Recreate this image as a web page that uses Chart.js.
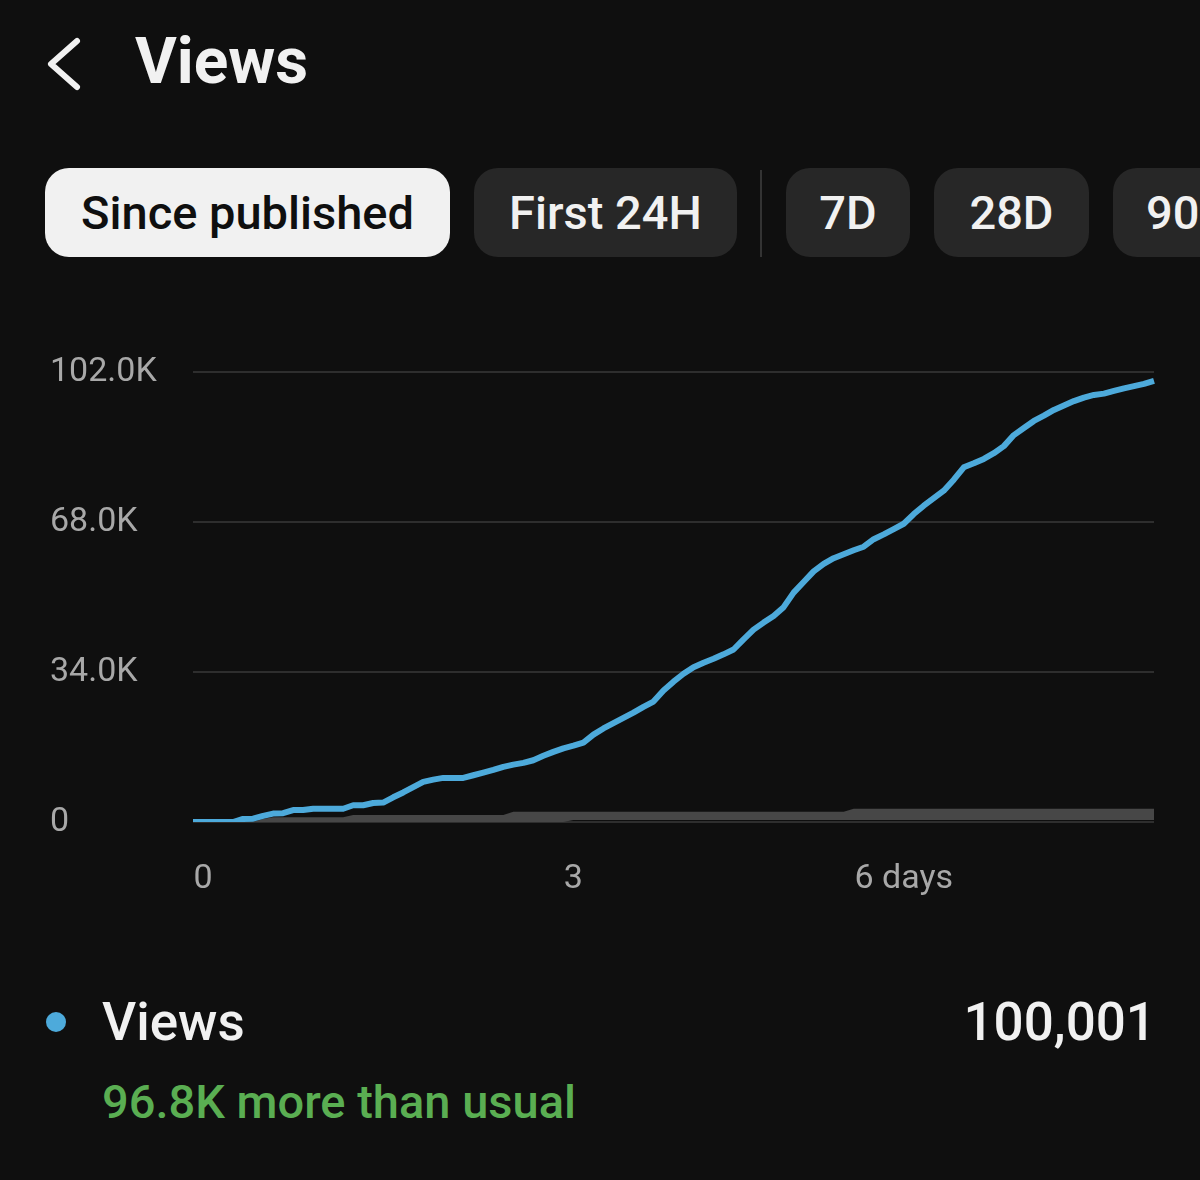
<!DOCTYPE html>
<html>
<head>
<meta charset="utf-8">
<script src="https://cdn.jsdelivr.net/npm/chart.js@4.4.1/dist/chart.umd.min.js"></script>
<style>
  html, body {
    margin: 0;
    padding: 0;
    width: 1200px;
    height: 1180px;
    overflow: hidden;
    background: #0f0f0f;
    font-family: Roboto, "Noto Sans", sans-serif;
  }
  .back {
    position: absolute;
    left: 40px;
    top: 34px;
  }
  .title {
    position: absolute;
    left: 135px;
    top: 23px;
    font-size: 64px;
    font-weight: 700;
    color: #f1f1f1;
    line-height: 78px;
  }
  .pill {
    position: absolute;
    top: 168px;
    height: 89px;
    border-radius: 24px;
    background: #272727;
    color: #f1f1f1;
    font-size: 47px;
    font-weight: 500;
    line-height: 89px;
    text-align: center;
    white-space: nowrap;
  }
  .pill.active {
    background: #f1f1f1;
    color: #0f0f0f;
  }
  .divider {
    position: absolute;
    left: 760px;
    top: 170px;
    width: 2px;
    height: 87px;
    background: #333;
  }
  .chart-wrap {
    position: absolute;
    left: 50px;
    top: 340px;
    width: 1133px;
    height: 562px;
  }
  .legend-dot {
    position: absolute;
    left: 46px;
    top: 1012px;
    width: 20px;
    height: 20px;
    border-radius: 50%;
    background: #4daadb;
  }
  .legend-name, .legend-total {
    position: absolute;
    top: 990px;
    font-size: 53px;
    font-weight: 500;
    color: #f1f1f1;
    line-height: 64px;
  }
  .legend-name { left: 102px; }
  .legend-total { right: 44px; }
  .legend-note {
    position: absolute;
    left: 102px;
    top: 1074px;
    font-size: 47px;
    font-weight: 500;
    color: #5aae52;
    line-height: 56px;
  }
</style>
</head>
<body>
<svg class="back" width="50" height="60" viewBox="0 0 50 60">
  <polyline points="37,7 11,30 37,53" fill="none" stroke="#f1f1f1" stroke-width="6" stroke-linecap="round" stroke-linejoin="round"/>
</svg>
<div class="title">Views</div>

<div class="pill active" style="left:45px;width:405px;">Since published</div>
<div class="pill" style="left:474px;width:263px;">First 24H</div>
<div class="divider"></div>
<div class="pill" style="left:786px;width:124px;">7D</div>
<div class="pill" style="left:934px;width:155px;">28D</div>
<div class="pill" style="left:1113px;width:150px;">90D</div>

<div class="chart-wrap"><canvas id="viewsChart"></canvas></div>

<div class="legend-dot"></div>
<div class="legend-name">Views</div>
<div class="legend-total">100,001</div>
<div class="legend-note">96.8K more than usual</div>

<script>
// Cumulative views (one sample per step)
const views = [
    0, 0, 0, 0, 0, 700, 750, 1400, 1900, 2000,
    2700, 2700, 3000, 3000, 3000, 3000, 3800, 3800, 4300, 4400,
    5600, 6700, 7900, 9100, 9600, 10000, 10000, 10000, 10600, 11200,
    11800, 12500, 13000, 13400, 14000, 15000, 15900, 16700, 17300, 18000,
    19800, 21200, 22400, 23600, 24800, 26100, 27300, 29800, 31800, 33600,
    35100, 36100, 37000, 38000, 39100, 41400, 43600, 45200, 46700, 48700,
    52000, 54400, 56800, 58500, 59800, 60700, 61600, 62400, 64100, 65200,
    66400, 67600, 69800, 71700, 73400, 75100, 77600, 80400, 81300, 82300,
    83600, 85200, 87700, 89300, 90900, 92100, 93400, 94400, 95400, 96200,
    96800, 97100, 97700, 98300, 98800, 99300, 100001
];

// Typical range (grey band)
const typicalHigh = [
    0, 0, 0, 0, 0, 0, 0, 700, 1100, 1100,
    1100, 1100, 1100, 1100, 1100, 1100, 1600, 1600, 1600, 1600,
    1600, 1600, 1600, 1600, 1600, 1600, 1600, 1600, 1600, 1600,
    1600, 1600, 2300, 2300, 2300, 2300, 2300, 2300, 2300, 2300,
    2300, 2300, 2300, 2300, 2300, 2300, 2300, 2300, 2300, 2300,
    2300, 2300, 2300, 2300, 2300, 2300, 2300, 2300, 2300, 2300,
    2300, 2300, 2300, 2300, 2300, 2300, 3000, 3000, 3000, 3000,
    3000, 3000, 3000, 3000, 3000, 3000, 3000, 3000, 3000, 3000,
    3000, 3000, 3000, 3000, 3000, 3000, 3000, 3000, 3000, 3000,
    3000, 3000, 3000, 3000, 3000, 3000, 3000
];
const typicalLow = [
    0, 0, 0, 0, 0, 0, 0, 0, 0, 0,
    0, 0, 0, 0, 0, 0, 0, 0, 0, 0,
    0, 0, 0, 0, 0, 0, 0, 0, 0, 0,
    0, 0, 0, 0, 0, 0, 0, 0, 450, 450,
    450, 450, 450, 450, 450, 450, 450, 450, 450, 450,
    450, 450, 450, 450, 450, 450, 450, 450, 450, 450,
    450, 450, 450, 450, 450, 450, 450, 450, 450, 450,
    450, 450, 450, 450, 450, 450, 450, 450, 450, 450,
    450, 450, 450, 450, 450, 450, 450, 450, 450, 450,
    450, 450, 450, 450, 450, 450, 450
];

// Day labels shown under the axis
const dayTicks = { 1: '0', 38: '3', 71: '6 days' };
const yTicks = [0, 34000, 68000, 102000];

const labels = views.map((v, i) => dayTicks[i] || '');

function formatK(value) {
    if (value === 0) return '0';
    return (value / 1000).toFixed(1) + 'K';
}

const ctx = document.getElementById('viewsChart').getContext('2d');
new Chart(ctx, {
    type: 'line',
    data: {
        labels: labels,
        datasets: [
            {
                label: 'Views',
                data: views,
                borderColor: '#4daadb',
                borderWidth: 6,
                borderJoinStyle: 'round',
                pointRadius: 0,
                tension: 0,
                fill: false
            },
            {
                label: 'Typical high',
                data: typicalHigh,
                borderWidth: 0,
                pointRadius: 0,
                tension: 0,
                backgroundColor: '#474747',
                fill: '+1'
            },
            {
                label: 'Typical low',
                data: typicalLow,
                borderWidth: 0,
                pointRadius: 0,
                tension: 0,
                fill: false
            }
        ]
    },
    options: {
        responsive: true,
        maintainAspectRatio: false,
        animation: false,
        layout: {
            padding: { top: 32, right: 17, bottom: 0, left: 0 }
        },
        plugins: {
            legend: { display: false },
            tooltip: { enabled: false }
        },
        scales: {
            x: {
                offset: false,
                grid: { display: false },
                border: { display: false },
                afterFit: function(scale) {
                    scale.height = 80;
                },
                ticks: {
                    autoSkip: false,
                    maxRotation: 0,
                    padding: 29,
                    color: '#a8a8a8',
                    font: { family: 'Roboto', size: 34 }
                }
            },
            y: {
                min: 0,
                max: 102000,
                afterFit: function(scale) {
                    scale.width = 143;
                },
                afterBuildTicks: function(scale) {
                    scale.ticks = yTicks.map(v => ({ value: v }));
                },
                grid: {
                    color: '#2e2e2e',
                    lineWidth: 2,
                    drawTicks: false
                },
                border: { display: false },
                ticks: {
                    crossAlign: 'far',
                    color: '#a8a8a8',
                    font: { family: 'Roboto', size: 34 },
                    callback: function(value) {
                        return formatK(value);
                    }
                }
            }
        }
    }
});
</script>
</body>
</html>
